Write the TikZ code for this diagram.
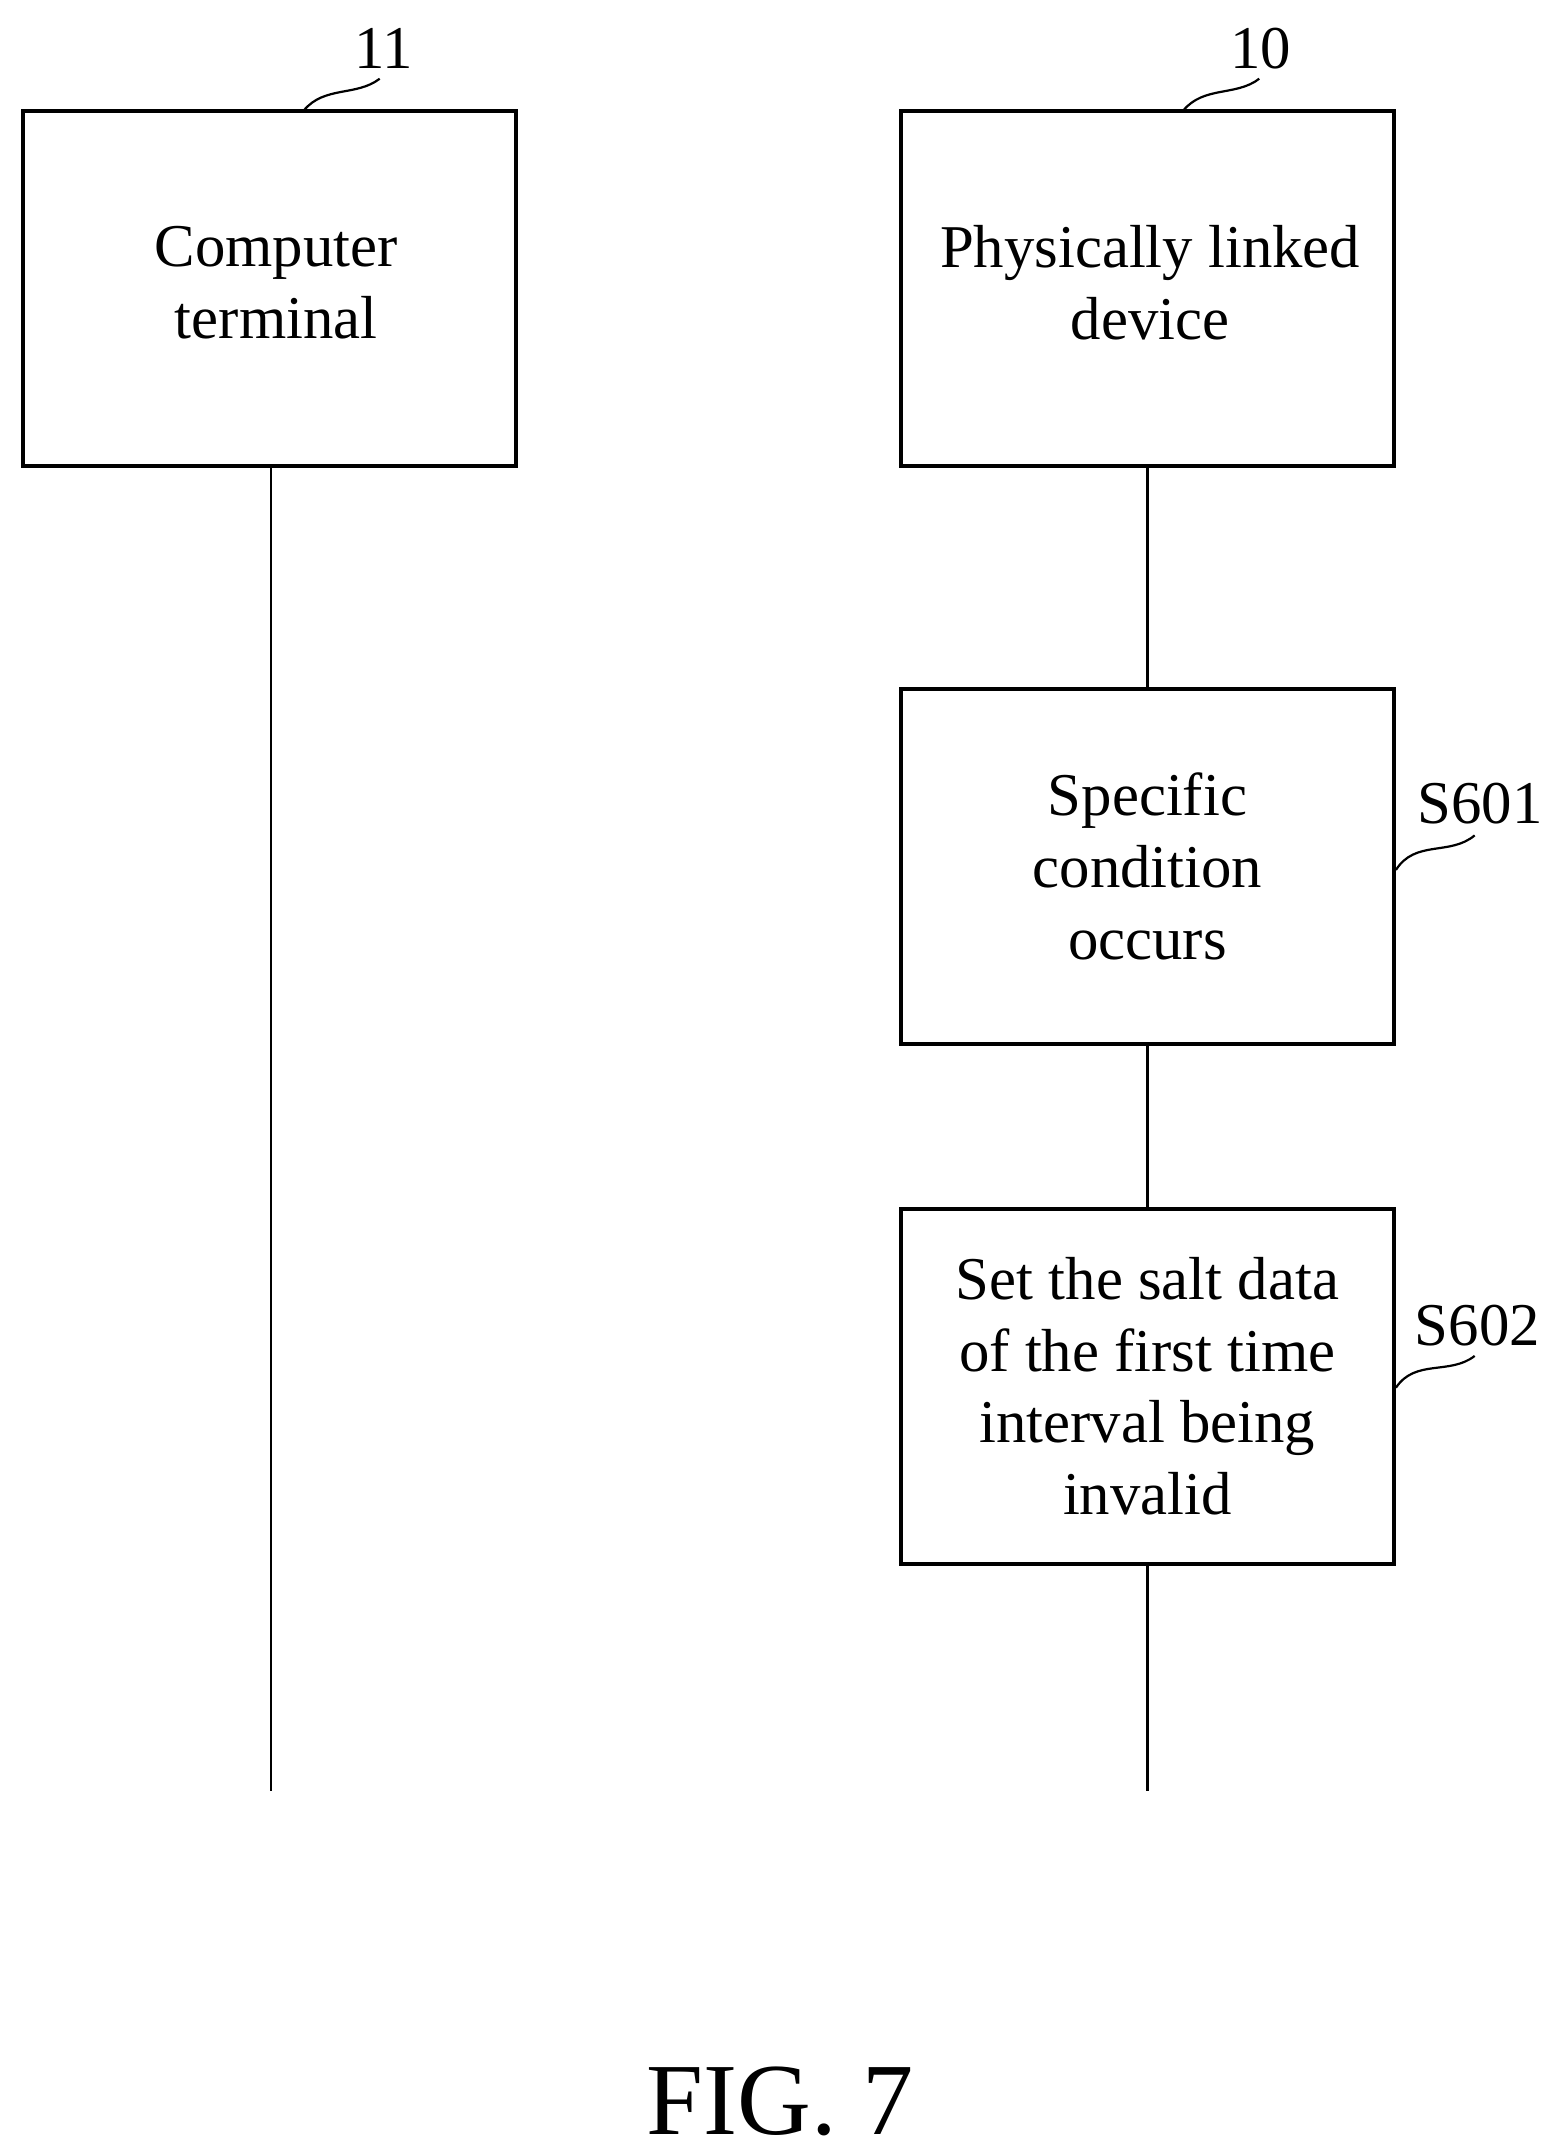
\documentclass[tikz,border=0pt]{standalone}
\usepackage{fontspec}
\setmainfont{Liberation Serif}
\begin{document}
\begin{tikzpicture}[x=0.5pt,y=-0.5pt,
  box/.style={draw,line width=1.4pt,minimum width=178.5pt,minimum height=128.5pt,align=center,font=\fontsize{22}{26}\selectfont,inner sep=0pt},
  lbl/.style={font=\fontsize{22}{24}\selectfont,inner sep=1pt},
  life/.style={line width=0.8pt},
  lead/.style={line width=0.8pt}]
\useasboundingbox (0,0) rectangle (1122,1560);
\node[box] (ct) at (195,209) {};
\node[font=\fontsize{22}{26}\selectfont,align=center] (ctt) at (200,205) {Computer\\terminal};
\node[box] (pd) at (831,209) {};
\node[font=\fontsize{22}{26}\selectfont,align=center] (pdt) at (833,205) {Physically linked\\device};
\node[box] (s1) at (831,627.5) {Specific\\condition\\occurs};
\node[box] (s2) at (831,1004) {Set the salt data\\of the first time\\interval being\\invalid};
\coordinate (ce) at (196,1297);
\coordinate (pe) at (831,1297);
\draw[life] (ct.south -| ce) -- (ce);
\draw[life] (pd.south) -- (s1.north);
\draw[life] (s1.south) -- (s2.north);
\draw[life] (s2.south) -- (pe);
\node[lbl] (l11) at (278,35) {11};
\node[lbl] (l10) at (913,35) {10};
\node[lbl] (l1) at (1072,582) {S601};
\node[lbl] (l2) at (1070,960) {S602};
\draw[lead] (220,80) .. controls (235,62) and (258,70) .. (275,57);
\draw[lead] (857,80) .. controls (872,62) and (895,70) .. (912,57);
\draw[lead] (1011,630) .. controls (1025,608) and (1050,620) .. (1068,605);
\draw[lead] (1011,1005) .. controls (1025,984) and (1050,996) .. (1068,982);
\node[font=\fontsize{37}{40}\selectfont] (fig) at (565,1522) {FIG. 7};
\end{tikzpicture}
\end{document}
